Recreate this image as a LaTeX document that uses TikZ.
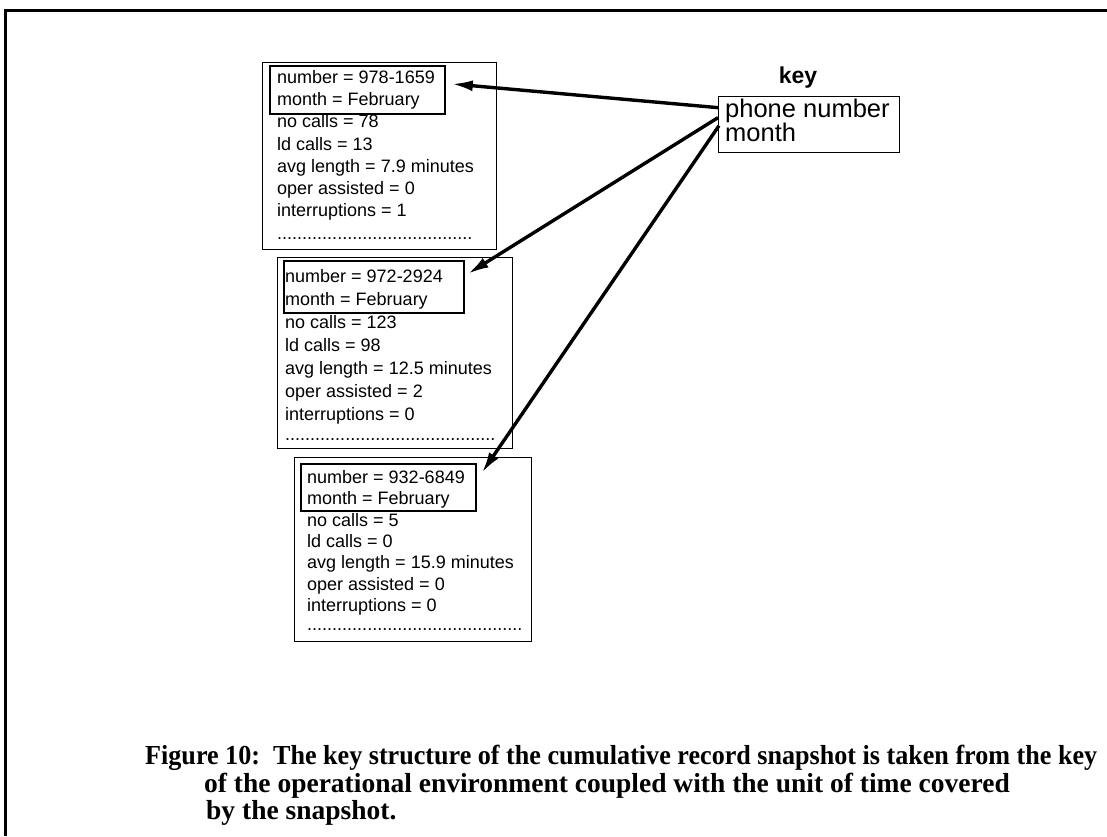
\documentclass[tikz,border=0pt]{standalone}
\usepackage{fontspec}
\setmainfont{Liberation Serif}
\newfontfamily\recfont{Liberation Sans}
\usetikzlibrary{arrows.meta}

% a row of spaced periods, #1 wide
\newcommand\periodrow[1]{\hbox to #1{\leaders\hbox to 5pt{\hss.\hss}\hfill}}

\begin{document}
\begin{tikzpicture}[x=1pt,y=-1pt,
  recbox/.style={draw, line width=1.3pt, inner sep=0pt, anchor=north west},
  keyframe/.style={draw, line width=1.8pt, inner sep=0pt, anchor=north west},
  field/.style={font=\recfont\fontsize{18}{20}\selectfont, inner sep=0pt, anchor=base west},
  keytext/.style={font=\recfont\fontsize{25.5}{28}\selectfont, inner sep=0pt, anchor=base west},
  keyhead/.style={font=\recfont\bfseries\fontsize{23}{25}\selectfont, inner sep=0pt, anchor=base},
  link/.style={line width=3.4pt, -{Latex[length=21pt,width=11pt]}},
  captext/.style={font=\bfseries\fontsize{27.5}{30}\selectfont, inner sep=0pt, anchor=base west}
]
\useasboundingbox (0,0) rectangle (1107,836);

% open frame: top and left rules
\draw[line width=2.5pt] (5.5,836) -- (5.5,10.5) -- (1107,10.5);

% record 1
\node[recbox, minimum width=234pt, minimum height=187pt] (rec1) at (262,62) {};
\node[keyframe, minimum width=175pt, minimum height=48pt] (key1) at (269,65) {};
\foreach \t [count=\i] in {number = 978-1659, month = February, no calls = 78,
    ld calls = 13, avg length = 7.9 minutes, oper assisted = 0, interruptions = 1}
  \node[field] (f1-\i) at (277,{83.5+22.2*(\i-1)}) {\t};
\node[field] (dots1) at (277,239) {\periodrow{199pt}};

% record 2
\node[recbox, minimum width=235pt, minimum height=191pt] (rec2) at (277,257) {};
\node[keyframe, minimum width=180pt, minimum height=52pt] (key2) at (283,260) {};
\foreach \t [count=\i] in {number = 972-2924, month = February, no calls = 123,
    ld calls = 98, avg length = 12.5 minutes, oper assisted = 2, interruptions = 0}
  \node[field] (f2-\i) at (285,{282+23*(\i-1)}) {\t};
\node[field] (dots2) at (285,440) {\periodrow{212pt}};

% record 3
\node[recbox, minimum width=237pt, minimum height=184pt] (rec3) at (294,457) {};
\node[keyframe, minimum width=175pt, minimum height=47pt] (key3) at (300,463) {};
\foreach \t [count=\i] in {number = 932-6849, month = February, no calls = 5,
    ld calls = 0, avg length = 15.9 minutes, oper assisted = 0, interruptions = 0}
  \node[field] (f3-\i) at (307,{483.5+21.3*(\i-1)}) {\t};
\node[field] (dots3) at (307,630) {\periodrow{217pt}};

% key of the operational environment
\node[keyhead] (keylabel) at (798,83) {key};
\node[recbox, minimum width=181pt, minimum height=56pt] (keybox) at (718,96) {};
\node[keytext] (kt1) at (725,117) {phone number};
\node[keytext] (kt2) at (725,141) {month};

% key links
\draw[link] ([yshift=17pt]keybox.west) -- ([xshift=6pt,yshift=6pt]key1.east);
\draw[link] ([yshift=7pt]keybox.west) -- ([xshift=3pt,yshift=13pt]key2.east);
\draw[link] ([xshift=1pt,yshift=-1pt]keybox.west) -- ([xshift=5pt,yshift=14.5pt]key3.east);

% caption
\node[captext] (cap1) at (145,764) {\resizebox{952pt}{\height}{Figure 10:\ \ The key structure of the cumulative record snapshot is taken from the key}};
\node[captext] (cap2) at (204,792) {of the operational environment coupled with the unit of time covered};
\node[captext] (cap3) at (206,819) {by the snapshot.};
\end{tikzpicture}
\end{document}
